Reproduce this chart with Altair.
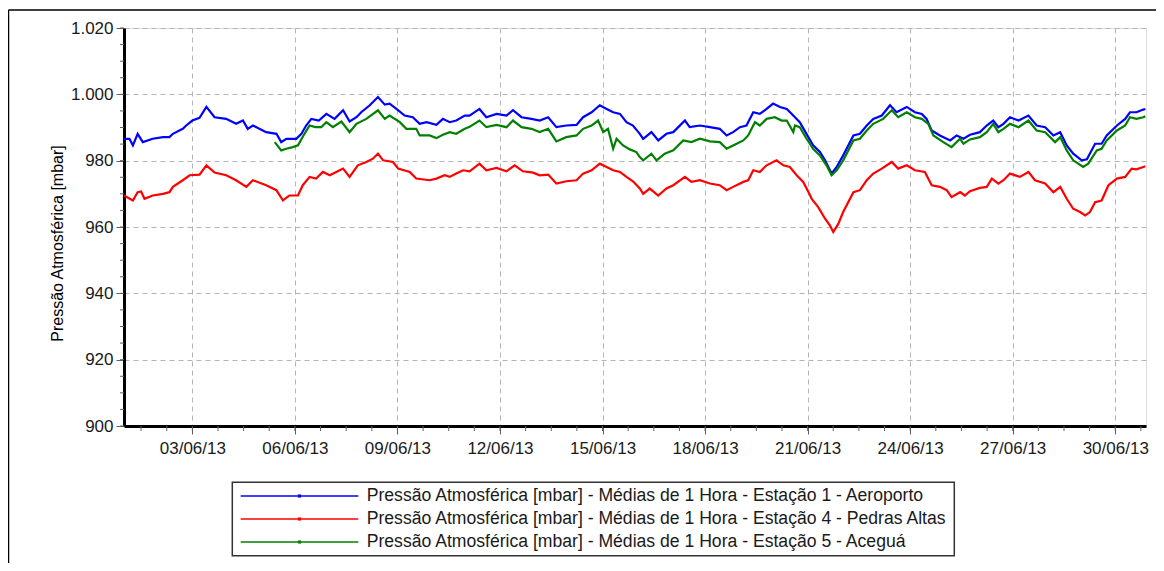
import altair as alt
import pandas as pd

# ---------------- data ----------------
series_names = [
    "Pressão Atmosférica [mbar] - Médias de 1 Hora - Estação 1 - Aeroporto",
    "Pressão Atmosférica [mbar] - Médias de 1 Hora - Estação 4 - Pedras Altas",
    "Pressão Atmosférica [mbar] - Médias de 1 Hora - Estação 5 - Aceguá",
]
series_colors = ["#0000ff", "#ff0000", "#008000"]

# time in days since 01/06/2013 00:00
blue_days = [0.00, 0.16, 0.26, 0.40, 0.55, 0.84, 1.14, 1.33, 1.43, 1.72, 1.82, 2.00, 2.21, 2.41, 2.65,
             2.99, 3.28, 3.48, 3.62, 3.77, 4.16, 4.46, 4.60, 4.75, 5.04, 5.19, 5.33, 5.48, 5.70, 5.92,
             6.16, 6.41, 6.60, 6.80, 6.94, 7.19, 7.43, 7.63, 7.77, 7.97, 8.21, 8.45, 8.65, 8.85, 9.14,
             9.33, 9.53, 9.72, 9.97, 10.11, 10.40, 10.60, 10.90, 11.19, 11.38, 11.63, 11.92, 12.16, 12.41,
             12.65, 12.94, 13.24, 13.43, 13.68, 13.92, 14.12, 14.31, 14.51, 14.70, 14.89, 15.09, 15.19,
             15.43, 15.63, 15.87, 16.07, 16.41, 16.55, 16.85, 17.14, 17.43, 17.63, 17.82, 18.02, 18.21,
             18.41, 18.60, 18.80, 18.99, 19.19, 19.39, 19.58, 19.77, 19.97, 20.16, 20.36, 20.51, 20.70,
             20.85, 21.04, 21.34, 21.53, 21.73, 21.92, 22.17, 22.41, 22.60, 22.90, 23.14, 23.34, 23.48,
             23.63, 23.87, 24.17, 24.36, 24.56, 24.75, 25.04, 25.24, 25.43, 25.58, 25.73, 25.92, 26.17,
             26.46, 26.70, 26.95, 27.19, 27.39, 27.58, 27.77, 28.02, 28.17, 28.41, 28.60, 28.75, 29.05,
             29.29, 29.43, 29.62, 29.82, 29.88]
blue_vals = [986.6, 986.6, 984.6, 988.1, 985.6, 986.6, 987.1, 987.1, 988.1, 989.6, 990.6, 992.1, 992.9, 996.2, 993.1,
             992.6, 991.1, 992.1, 989.6, 990.6, 988.6, 988.1, 985.6, 986.6, 986.6, 988.1, 990.6, 992.6, 992.1, 994.1,
             992.6, 995.2, 991.8, 993.1, 994.6, 996.7, 999.2, 996.9, 997.2, 995.6, 993.6, 993.1, 991.1, 991.6, 990.8,
             992.6, 991.6, 992.1, 993.6, 993.6, 995.6, 993.1, 994.1, 993.6, 995.2, 993.1, 992.6, 992.1, 993.1,
             990.1, 990.6, 990.8, 993.1, 994.6, 996.7, 995.6, 994.6, 994.1, 991.6, 990.6, 988.1, 986.6,
             988.6, 986.1, 988.1, 988.6, 992.1, 990.1, 990.6, 990.1, 989.6, 987.6, 988.6, 990.1, 990.6,
             994.6, 994.1, 995.6, 997.2, 996.2, 995.6, 993.6, 991.6, 988.0, 984.6, 982.6, 980.1, 976.1,
             978.1, 981.6, 987.6, 988.1, 990.6, 992.6, 993.6, 996.7, 994.6, 996.2, 994.6, 994.1, 992.6,
             989.1, 987.6, 986.1, 987.6, 986.6, 987.8, 988.6, 990.6, 992.1, 990.1, 991.1, 993.1, 992.1,
             993.6, 990.6, 990.1, 987.6, 988.6, 984.6, 982.1, 980.1, 980.4, 985.1, 985.1, 987.6, 990.6,
             992.6, 994.6, 994.6, 995.4, 995.6]

red_days = [0.00, 0.26, 0.40, 0.50, 0.60, 0.84, 1.14, 1.33, 1.43, 1.72, 1.92, 2.21, 2.41, 2.65, 2.99,
            3.28, 3.58, 3.77, 4.16, 4.46, 4.65, 4.84, 5.09, 5.23, 5.43, 5.62, 5.82, 6.02, 6.21, 6.41,
            6.60, 6.84, 7.09, 7.28, 7.43, 7.58, 7.87, 8.02, 8.36, 8.55, 8.94, 9.14, 9.38, 9.53, 9.72,
            9.92, 10.11, 10.40, 10.60, 10.90, 11.19, 11.43, 11.67, 11.97, 12.16, 12.41, 12.65, 12.94,
            13.24, 13.43, 13.68, 13.92, 14.12, 14.31, 14.51, 14.70, 14.89, 15.09, 15.19, 15.38, 15.63,
            15.87, 16.07, 16.41, 16.60, 16.85, 17.14, 17.43, 17.63, 17.82, 18.12, 18.26, 18.41, 18.60,
            18.80, 19.09, 19.29, 19.48, 19.68, 19.87, 20.05, 20.12, 20.31, 20.51, 20.65, 20.75, 20.90,
            21.04, 21.34, 21.53, 21.73, 21.92, 22.17, 22.46, 22.65, 22.90, 23.14, 23.43, 23.63, 23.87,
            24.07, 24.21, 24.46, 24.60, 24.75, 25.04, 25.24, 25.39, 25.58, 25.73, 25.92, 26.21, 26.46,
            26.65, 26.95, 27.19, 27.39, 27.58, 27.77, 27.97, 28.12, 28.26, 28.41, 28.60, 28.80, 29.05,
            29.29, 29.48, 29.62, 29.82, 29.88]
red_vals = [969.5, 968.0, 970.5, 970.7, 968.5, 969.5, 970.0, 970.5, 972.1, 974.1, 975.6, 975.8, 978.6, 976.4, 975.6,
            974.1, 972.1, 974.1, 972.6, 971.1, 968.0, 969.5, 969.5, 972.6, 975.1, 974.6, 976.6, 975.6, 976.6, 977.6,
            975.1, 978.6, 979.6, 980.6, 982.1, 980.1, 979.6, 977.6, 976.6, 974.6, 974.1, 974.6, 975.6, 975.1, 976.1,
            977.1, 976.8, 979.1, 977.1, 977.8, 976.8, 978.6, 976.8, 976.4, 975.6, 975.8, 973.1, 973.8,
            974.1, 976.1, 977.1, 979.1, 978.1, 977.1, 976.6, 975.1, 973.8, 971.6, 970.0, 971.6, 969.5,
            971.6, 972.6, 975.1, 973.6, 974.1, 973.1, 972.6, 971.1, 972.1, 973.6, 974.1, 977.1, 976.6,
            978.6, 980.1, 978.6, 978.1, 975.6, 973.6, 970.0, 968.5, 966.0, 962.5, 960.5, 958.5, 961.0,
            964.5, 970.5, 971.1, 974.1, 976.1, 977.6, 979.6, 977.6, 978.6, 977.1, 976.6, 972.6, 972.1,
            971.1, 969.0, 970.5, 969.5, 970.8, 971.8, 972.1, 974.6, 973.1, 974.1, 976.1, 975.1, 976.6,
            974.1, 973.1, 970.5, 972.1, 968.5, 965.5, 964.5, 963.5, 964.5, 967.5, 968.0, 972.6, 974.6,
            975.1, 977.6, 977.4, 978.1, 978.3]

green_days = [4.41, 4.60, 4.75, 4.94, 5.09, 5.28, 5.43, 5.60, 5.77, 5.92, 6.11, 6.36, 6.60, 6.80, 7.09,
              7.43, 7.63, 7.77, 8.07, 8.26, 8.55, 8.65, 8.94, 9.14, 9.33, 9.53, 9.72, 9.97, 10.11, 10.40,
              10.60, 10.90, 11.19, 11.38, 11.63, 11.92, 12.16, 12.41, 12.65, 12.94, 13.24, 13.43, 13.68,
              13.87, 14.02, 14.16, 14.31, 14.41, 14.60, 14.80, 14.99, 15.09, 15.19, 15.43, 15.58, 15.82,
              16.07, 16.36, 16.60, 16.85, 17.14, 17.43, 17.63, 17.82, 18.12, 18.26, 18.46, 18.60, 18.80,
              19.04, 19.24, 19.39, 19.58, 19.63, 19.77, 19.97, 20.16, 20.36, 20.55, 20.70, 20.85, 21.04,
              21.34, 21.53, 21.73, 21.92, 22.21, 22.46, 22.65, 22.90, 23.14, 23.34, 23.53, 23.68, 23.97,
              24.21, 24.46, 24.56, 24.75, 25.04, 25.24, 25.43, 25.58, 25.73, 25.92, 26.17, 26.46, 26.70,
              26.95, 27.24, 27.39, 27.58, 27.77, 28.06, 28.21, 28.46, 28.60, 28.75, 29.05, 29.29, 29.43,
              29.62, 29.82, 29.88]
green_vals = [985.6, 983.1, 983.6, 984.1, 984.6, 988.1, 990.6, 990.1, 990.1, 991.6, 990.1, 991.8, 988.6, 991.1, 992.6,
              995.2, 992.6, 993.6, 991.6, 989.6, 989.6, 987.6, 987.6, 986.8, 987.8, 988.6, 988.1, 989.6, 990.2, 992.1,
              990.1, 990.8, 990.1, 992.1, 990.1, 989.6, 988.6, 989.6, 985.8, 987.1, 987.6, 989.6, 990.6,
              992.1, 988.6, 989.6, 983.6, 986.6, 984.6, 983.4, 982.6, 981.1, 980.1, 982.1, 980.1, 982.1,
              983.1, 986.1, 985.6, 986.6, 985.8, 985.6, 983.6, 984.6, 986.1, 987.6, 991.6, 990.6, 992.6,
              993.1, 992.1, 992.1, 988.6, 990.6, 990.1, 986.6, 983.6, 981.6, 978.6, 975.6, 977.1, 980.1,
              986.1, 986.6, 989.1, 991.1, 992.6, 995.2, 993.1, 994.6, 993.1, 992.6, 991.1, 987.6, 985.6,
              984.1, 986.6, 985.1, 986.4, 987.1, 988.6, 991.1, 988.6, 989.6, 991.1, 990.1, 992.1, 989.1,
              988.6, 985.6, 987.1, 983.1, 980.1, 978.1, 979.1, 983.1, 983.6, 986.1, 989.1, 990.6, 993.1,
              992.6, 993.1, 993.4]

y_tick_values = [900, 920, 940, 960, 980, 1000, 1020]
y_minor_values = [900, 905, 910, 915, 920, 925, 930, 935, 940, 945, 950, 955, 960, 965, 970, 975,
                  980, 985, 990, 995, 1000, 1005, 1010, 1015, 1020]
x_tick_days = [3, 6, 9, 12, 15, 18, 21, 24, 27, 30]          # labelled ticks (June 2013)
x_minor_hours = [12 + 18 * k for k in range(40)]               # minor ticks every 18 h

# ---------------- build tables ----------------
start = pd.Timestamp("2013-06-01 00:00")


def iso(days):
    return [(start + pd.Timedelta(days=d)).strftime("%Y-%m-%dT%H:%M:%S") for d in days]


frames = []
for name, days, vals in [(series_names[0], blue_days, blue_vals),
                         (series_names[1], red_days, red_vals),
                         (series_names[2], green_days, green_vals)]:
    frames.append(pd.DataFrame({"time": iso(days), "value": vals, "series": name}))
df = pd.concat(frames, ignore_index=True)

minor_x_df = pd.DataFrame({"time": [(start + pd.Timedelta(hours=h)).strftime("%Y-%m-%dT%H:%M:%S")
                                    for h in x_minor_hours if h <= 29.9 * 24]})
minor_y_df = pd.DataFrame({"value": y_minor_values})

FONT = "Liberation Sans"
W, H = 1022, 398

x_scale = alt.Scale(domain=[alt.DateTime(year=2013, month=6, date=1, hours=0),
                            alt.DateTime(year=2013, month=6, date=30, hours=21, minutes=35)], nice=False)
y_scale = alt.Scale(domain=[900, 1020], nice=False, zero=False)

x_axis = alt.Axis(format="%d/%m/%y", values=[alt.DateTime(year=2013, month=6, date=d) for d in x_tick_days],
                  grid=True, gridDash=[5, 4], gridColor="#b4b4b4", gridWidth=1,
                  domainColor="#000000", domainWidth=3, tickSize=8, tickColor="#606060",
                  labelFont=FONT, labelFontSize=17, labelColor="#1a1a1a", labelPadding=6,
                  labelOverlap=False, title=None)
y_axis = alt.Axis(values=y_tick_values,
                  labelExpr="datum.value >= 1000 ? format(datum.value / 1000, '.3f') : format(datum.value, 'd')",
                  grid=True, gridDash=[5, 4], gridColor="#b4b4b4", gridWidth=1,
                  domainColor="#000000", domainWidth=3, tickSize=8, tickColor="#606060",
                  labelFont=FONT, labelFontSize=17, labelColor="#1a1a1a", labelPadding=3,
                  title="Pressão Atmosférica [mbar]", titleFont=FONT, titleFontSize=16,
                  titleFontWeight="normal", titleColor="#000000", titleAngle=270,
                  titleX=-67, titleY=215, titleAlign="center", titleBaseline="middle")

x_enc = alt.X("time:T", scale=x_scale, axis=x_axis)
y_enc = alt.Y("value:Q", scale=y_scale, axis=y_axis)

lines = alt.Chart(df).mark_line(strokeWidth=2.2, clip=True).encode(
    x=x_enc, y=y_enc,
    color=alt.Color("series:N", scale=alt.Scale(domain=series_names, range=series_colors), legend=None),
)

minor_x = alt.Chart(minor_x_df).mark_rule(color="#606060", strokeWidth=1).encode(
    x=x_enc, y=alt.value(H), y2=alt.value(H + 5))
minor_y = alt.Chart(minor_y_df).mark_rule(color="#606060", strokeWidth=1).encode(
    y=y_enc, x=alt.value(-4), x2=alt.value(0))

one = pd.DataFrame({"k": [0]})

# outer frame (top and left lines only, as in the reference)
frame_top = alt.Chart(one).mark_rule(color="#000000", strokeWidth=1.5).encode(
    x=alt.value(-115.5), x2=alt.value(1032), y=alt.value(-18))
frame_left = alt.Chart(one).mark_rule(color="#000000", strokeWidth=1.5).encode(
    x=alt.value(-115.5), y=alt.value(-18), y2=alt.value(535))

# legend (drawn below the plot)
legend_box = alt.Chart(one).mark_rect(fill="#ffffff", stroke="#333333", strokeWidth=1.5).encode(
    x=alt.value(108.3), x2=alt.value(830.3), y=alt.value(454.3), y2=alt.value(527.7))
legend_layers = [legend_box]
row_y = [468, 491, 514]
for name, col, ry in zip(series_names, series_colors, row_y):
    legend_layers.append(alt.Chart(one).mark_rule(color=col, strokeWidth=1.5).encode(
        x=alt.value(116.7), x2=alt.value(234.3), y=alt.value(ry)))
    legend_layers.append(alt.Chart(one).mark_square(color=col, size=10, opacity=1).encode(
        x=alt.value(175.5), y=alt.value(ry)))
    legend_layers.append(alt.Chart(one).mark_text(align="left", baseline="middle", font=FONT,
                                                  fontSize=17.6, color="#1a1a1a").encode(
        x=alt.value(242.7), y=alt.value(ry), text=alt.value(name)))

chart = alt.layer(lines, minor_x, minor_y, frame_top, frame_left, *legend_layers).properties(
    width=W, height=H,
    padding={"left": 116, "top": 20, "right": 10, "bottom": 137},
    autosize=alt.AutoSizeParams(type="none"),
).configure_view(stroke="#000000", strokeWidth=1).configure(background="#ffffff")

chart.save("out.html", embed_options={"renderer": "svg", "actions": False})
